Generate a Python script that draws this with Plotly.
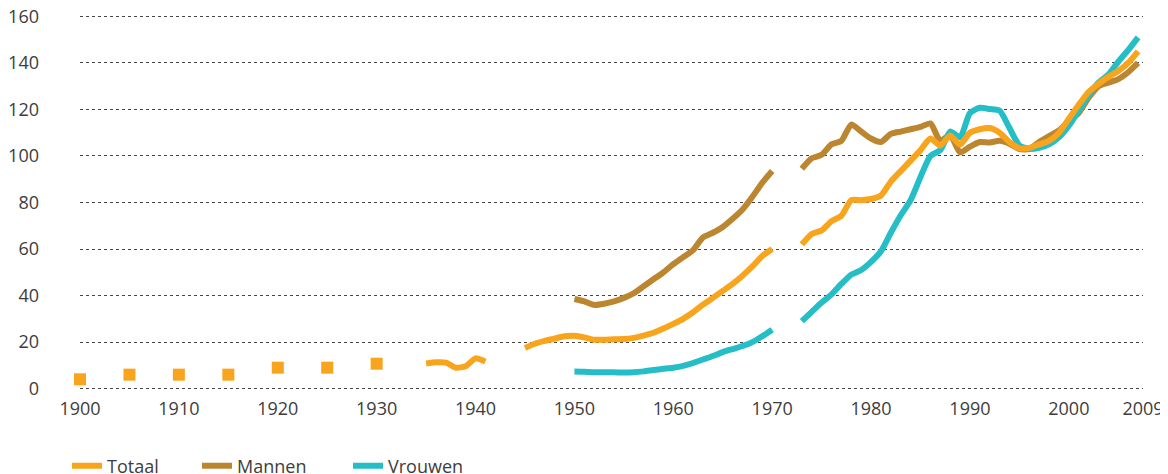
import plotly.graph_objects as go

# ---- data ----
early_years = [1900, 1905, 1910, 1915, 1920, 1925, 1930]
totaal_early = [4.0, 6.0, 6.0, 6.0, 9.0, 9.0, 10.7]

years = list(range(1935, 2008))

totaal_1935 = [10.8, 11.3, 11.2, 9.0, 9.6, 13.0, 11.6]
totaal_1945 = [17.5, 19.3, 20.5, 21.5, 22.5, 22.7, 22.0, 21.0, 21.0, 21.2,
               21.3, 21.8, 22.8, 24.0, 25.8, 27.8, 30.0, 32.8, 36.1, 39.0,
               42.0, 45.0, 48.5, 52.5, 57.0, 60.0]
totaal_1973 = [62.0, 66.5, 68.0, 72.0, 74.3, 81.0, 81.0, 81.5, 83.0, 89.0,
               93.5, 98.0, 102.5, 107.5, 104.5, 108.8, 104.8, 110.0, 111.5, 112.0,
               110.0, 106.0, 103.3, 103.5, 105.0, 106.5, 110.0, 116.0, 122.0, 127.5,
               131.0, 134.0, 136.5, 140.0, 145.0]

mannen_1950 = [38.5, 37.5, 36.0, 36.5, 37.5, 39.0, 41.0, 44.0, 47.0, 50.0,
               53.5, 56.5, 59.5, 65.0, 67.0, 69.5, 73.0, 77.0, 82.5, 88.5, 93.5]
mannen_1973 = [94.5, 99.0, 100.5, 105.0, 106.5, 113.5, 110.5, 107.5, 106.0, 109.5,
               110.5, 111.5, 112.5, 114.0, 106.5, 109.0, 101.5, 104.0, 106.0, 105.8,
               106.5, 105.3, 103.0, 103.0, 106.0, 108.5, 111.0, 115.0, 118.5, 125.0,
               130.0, 131.5, 133.0, 136.0, 140.0]

vrouwen_1950 = [7.3, 7.2, 7.0, 7.0, 7.0, 6.9, 7.0, 7.4, 8.0, 8.5,
                9.0, 9.8, 11.0, 12.5, 14.0, 15.7, 17.0, 18.3, 20.0, 22.5, 25.3]
vrouwen_1973 = [29.0, 33.0, 37.0, 40.5, 45.0, 49.0, 51.0, 54.5, 59.0, 67.0,
                74.5, 81.0, 91.0, 100.0, 102.5, 110.5, 108.0, 118.5, 120.7, 120.2,
                119.5, 112.0, 104.5, 103.0, 103.5, 105.0, 108.0, 113.0, 119.5, 126.0,
                131.5, 135.0, 140.5, 145.5, 151.0]

x_tick_vals = [1900, 1910, 1920, 1930, 1940, 1950, 1960, 1970, 1980, 1990, 2000, 2007.5]
x_tick_text = ["1900", "1910", "1920", "1930", "1940", "1950", "1960", "1970",
               "1980", "1990", "2000", "2009"]
y_tick_vals = [0, 20, 40, 60, 80, 100, 120, 140, 160]

# ---- assemble series with gaps ----
def series(parts):
    vals = {}
    for start, arr in parts:
        for i, v in enumerate(arr):
            vals[start + i] = v
    return [vals.get(y) for y in years]

totaal = series([(1935, totaal_1935), (1945, totaal_1945), (1973, totaal_1973)])
mannen = series([(1950, mannen_1950), (1973, mannen_1973)])
vrouwen = series([(1950, vrouwen_1950), (1973, vrouwen_1973)])

C_TOT = "#F8A51D"
C_MAN = "#BC8631"
C_VRO = "#25BEC6"
FONT = "Open Sans"
TXT = "#3d3d3d"

# the page body has an 8px default margin, so the figure is 8px smaller
W, H = 1160, 466

fig = go.Figure()
fig.add_trace(go.Scatter(x=early_years, y=totaal_early, mode="markers",
                         marker=dict(symbol="square", size=12, color=C_TOT),
                         showlegend=False, cliponaxis=False, hoverinfo="x+y"))
fig.add_trace(go.Scatter(x=years, y=mannen, mode="lines", name="Mannen",
                         line=dict(color=C_MAN, width=6, shape="spline", smoothing=0.6),
                         connectgaps=False, legend="legend2"))
fig.add_trace(go.Scatter(x=years, y=vrouwen, mode="lines", name="Vrouwen",
                         line=dict(color=C_VRO, width=6, shape="spline", smoothing=0.6),
                         connectgaps=False, legend="legend3"))
fig.add_trace(go.Scatter(x=years, y=totaal, mode="lines", name="Totaal",
                         line=dict(color=C_TOT, width=6, shape="spline", smoothing=0.6),
                         connectgaps=False, legend="legend"))

leg_common = dict(orientation="h", yanchor="middle", y=(H - 458) / H,
                  yref="container", xref="container", xanchor="left",
                  font=dict(family=FONT, size=18, color=TXT),
                  bgcolor="rgba(0,0,0,0)", borderwidth=0)

fig.update_layout(
    width=W, height=H,
    margin=dict(l=72, r=25, t=7, b=84, autoexpand=False),
    paper_bgcolor="white", plot_bgcolor="white",
    font=dict(family=FONT, size=18, color=TXT),
    showlegend=True,
    legend=dict(x=59 / W, **leg_common),
    legend2=dict(x=189 / W, **leg_common),
    legend3=dict(x=340 / W, **leg_common),
    xaxis=dict(range=[1900, 2007.5], tickvals=x_tick_vals, ticktext=x_tick_text,
               showgrid=False, zeroline=False, showline=False, ticks="",
               automargin=False, ticklabelstandoff=6, ticklabeloverflow="allow",
               tickfont=dict(family=FONT, size=18, color=TXT)),
    yaxis=dict(range=[-0.6, 160.6], tickvals=y_tick_vals, showgrid=True,
               gridcolor="#444444", griddash="dot", gridwidth=1,
               zeroline=False, showline=False, ticks="", automargin=False,
               ticklabelstandoff=40, ticklabeloverflow="allow",
               tickfont=dict(family=FONT, size=18, color=TXT)),
)

fig.write_html("out.html")
